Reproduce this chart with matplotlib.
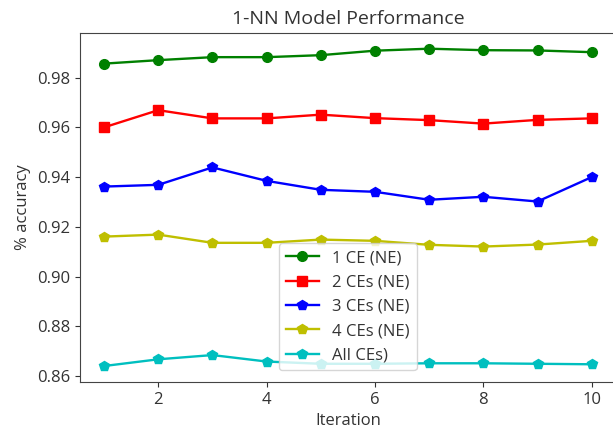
import matplotlib
matplotlib.use('Agg')
import matplotlib.pyplot as plt

iterations = [1, 2, 3, 4, 5, 6, 7, 8, 9, 10]

acc_1ce = [0.9856, 0.9870, 0.9882, 0.9882, 0.9890, 0.9908, 0.9916, 0.9910, 0.9909, 0.9902]
acc_2ce = [0.9600, 0.9669, 0.9636, 0.9636, 0.9651, 0.9637, 0.9629, 0.9615, 0.9630, 0.9636]
acc_3ce = [0.9362, 0.9369, 0.9439, 0.9385, 0.9349, 0.9341, 0.9309, 0.9321, 0.9302, 0.9400]
acc_4ce = [0.9161, 0.9169, 0.9136, 0.9136, 0.9149, 0.9144, 0.9128, 0.9121, 0.9129, 0.9144]
acc_all = [0.8641, 0.8668, 0.8685, 0.8659, 0.8650, 0.8650, 0.8652, 0.8652, 0.8650, 0.8648]

plt.rcParams['font.family'] = ['Open Sans', 'DejaVu Sans']
plt.rcParams['font.size'] = 12
plt.rcParams['text.color'] = '#333333'
plt.rcParams['axes.labelcolor'] = '#333333'
plt.rcParams['xtick.color'] = '#333333'
plt.rcParams['ytick.color'] = '#333333'
plt.rcParams['axes.edgecolor'] = '#444444'

fig, ax = plt.subplots(figsize=(6.13, 4.32), dpi=100)
fig.subplots_adjust(left=0.130, right=1.005, top=0.924, bottom=0.116)

ms = 7
lw = 1.7
ax.plot(iterations, acc_1ce, 'g-o', markersize=ms, linewidth=lw, label='1 CE (NE)')
ax.plot(iterations, acc_2ce, 'r-s', markersize=ms, linewidth=lw, label='2 CEs (NE)')
ax.plot(iterations, acc_3ce, 'b-p', markersize=ms, linewidth=lw, label='3 CEs (NE)')
ax.plot(iterations, acc_4ce, 'y-p', markersize=ms, linewidth=lw, label='4 CEs (NE)')
ax.plot(iterations, acc_all, 'c-p', markersize=ms, linewidth=lw, label='All CEs)')

ax.set_xticks([2, 4, 6, 8, 10])
ax.set_xlabel('Iteration')
ax.set_ylabel('% accuracy')
ax.set_title('1-NN Model Performance', fontsize=14)
ax.legend(loc='lower center', bbox_to_anchor=(0.5, 0.01))

plt.savefig('out.png')
